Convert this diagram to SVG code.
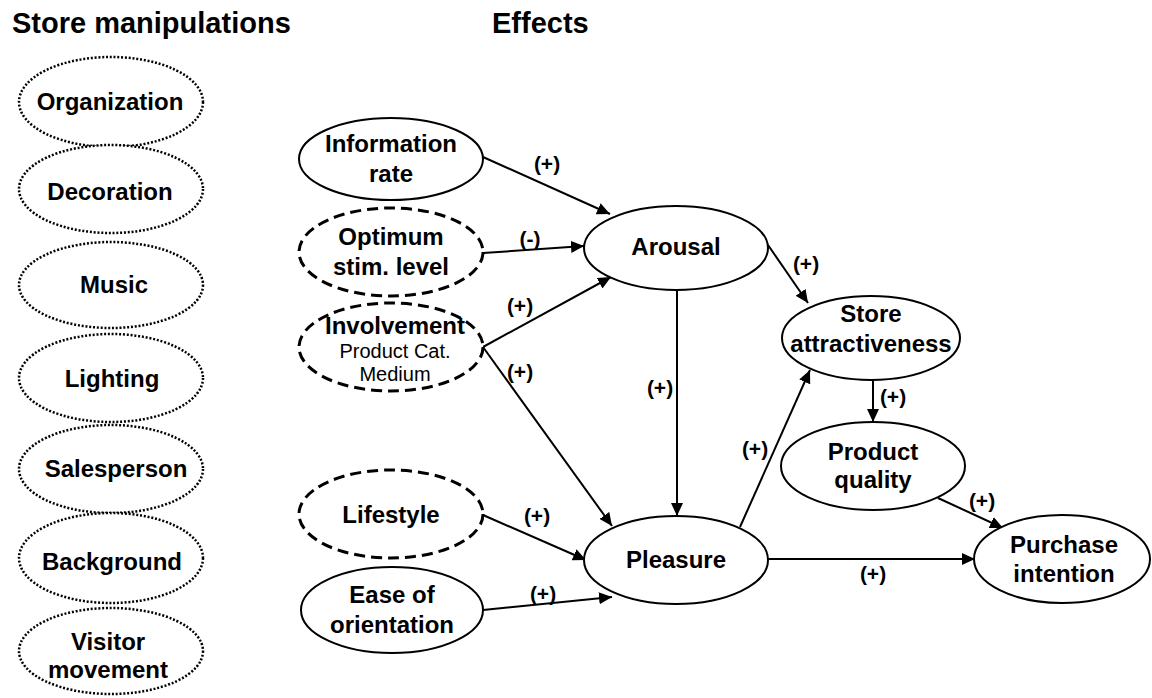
<svg xmlns="http://www.w3.org/2000/svg" width="1152" height="698" viewBox="0 0 1152 698">
<style>
text{font-family:"Liberation Sans",Arial,sans-serif;font-weight:bold;fill:#000;text-anchor:middle}
.title{font-size:29px;text-anchor:start}
.lbl{font-size:24px}
.sub{font-size:20px;font-weight:normal}
.sign{font-size:21px}
.dot{fill:#fff;stroke:#000;stroke-width:2.5;stroke-dasharray:2 1.8}
.dash{fill:#fff;stroke:#000;stroke-width:3;stroke-dasharray:11 6}
.solid{fill:#fff;stroke:#000;stroke-width:2}
.edge{stroke:#000;stroke-width:2;fill:none;marker-end:url(#arr)}
</style>
<defs>
<marker id="arr" markerUnits="userSpaceOnUse" markerWidth="14" markerHeight="12" refX="13" refY="6" orient="auto">
<path d="M0,0 L13,6 L0,12 z" fill="#000"/>
</marker>
</defs>
<g id="titles">
<text class="title" x="12" y="33">Store manipulations</text>
<text class="title" x="492" y="33">Effects</text>
</g>
<g id="manipulations">
<g id="organization"><ellipse class="dot" cx="111" cy="102" rx="92" ry="45"/><text class="lbl" x="110" y="110">Organization</text></g>
<g id="decoration"><ellipse class="dot" cx="111" cy="189" rx="92" ry="44"/><text class="lbl" x="110" y="200">Decoration</text></g>
<g id="music"><ellipse class="dot" cx="111" cy="285" rx="92" ry="43"/><text class="lbl" x="114" y="293">Music</text></g>
<g id="lighting"><ellipse class="dot" cx="111" cy="378" rx="92" ry="44"/><text class="lbl" x="112" y="387">Lighting</text></g>
<g id="salesperson"><ellipse class="dot" cx="111" cy="469" rx="92" ry="44"/><text class="lbl" x="116" y="477">Salesperson</text></g>
<g id="background"><ellipse class="dot" cx="111" cy="558" rx="92" ry="45"/><text class="lbl" x="112" y="570">Background</text></g>
<g id="visitor"><ellipse class="dot" cx="111" cy="651" rx="92" ry="43"/><text class="lbl" x="108" y="650">Visitor</text><text class="lbl" x="108" y="678">movement</text></g>
</g>
<g id="connectors">
<line class="edge" x1="483" y1="157" x2="610" y2="214"/>
<line class="edge" x1="483" y1="253" x2="584" y2="246"/>
<line class="edge" x1="483" y1="347" x2="611" y2="277"/>
<line class="edge" x1="483" y1="347" x2="612" y2="526"/>
<line class="edge" x1="483" y1="515" x2="586" y2="560"/>
<line class="edge" x1="483" y1="610" x2="612" y2="597"/>
<line class="edge" x1="677" y1="290" x2="677" y2="516"/>
<line class="edge" x1="768" y1="245" x2="808" y2="303"/>
<line class="edge" x1="740" y1="527" x2="810" y2="370"/>
<line class="edge" x1="873" y1="380" x2="873" y2="422"/>
<line class="edge" x1="938" y1="498" x2="1003" y2="528"/>
<line class="edge" x1="768" y1="559" x2="975" y2="559"/>
</g>
<g id="edge-labels">
<text class="sign" x="547" y="171">(+)</text>
<text class="sign" x="530" y="246">(-)</text>
<text class="sign" x="520" y="313">(+)</text>
<text class="sign" x="520" y="379">(+)</text>
<text class="sign" x="537" y="523">(+)</text>
<text class="sign" x="543" y="601">(+)</text>
<text class="sign" x="660" y="395">(+)</text>
<text class="sign" x="806" y="271">(+)</text>
<text class="sign" x="755" y="456">(+)</text>
<text class="sign" x="893" y="404">(+)</text>
<text class="sign" x="982" y="508">(+)</text>
<text class="sign" x="873" y="581">(+)</text>
</g>
<g id="info-rate"><ellipse class="solid" cx="391" cy="159" rx="92" ry="41"/><text class="lbl" x="391" y="152">Information</text><text class="lbl" x="391" y="182">rate</text></g>
<g id="optimum"><ellipse class="dash" cx="391" cy="252" rx="92" ry="44"/><text class="lbl" x="391" y="245">Optimum</text><text class="lbl" x="391" y="275">stim. level</text></g>
<g id="involvement"><ellipse class="dash" cx="391" cy="347" rx="92" ry="44"/><text class="lbl" x="395" y="334">Involvement</text><text class="sub" x="395" y="358">Product Cat.</text><text class="sub" x="395" y="381">Medium</text></g>
<g id="lifestyle"><ellipse class="dash" cx="391" cy="514" rx="92" ry="44"/><text class="lbl" x="391" y="523">Lifestyle</text></g>
<g id="ease"><ellipse class="solid" cx="392" cy="610" rx="91" ry="43"/><text class="lbl" x="392" y="603">Ease of</text><text class="lbl" x="392" y="633">orientation</text></g>
<g id="arousal"><ellipse class="solid" cx="676" cy="248" rx="92" ry="42"/><text class="lbl" x="676" y="255">Arousal</text></g>
<g id="pleasure"><ellipse class="solid" cx="676" cy="560" rx="92" ry="44"/><text class="lbl" x="676" y="568">Pleasure</text></g>
<g id="store-attr"><ellipse class="solid" cx="871" cy="338" rx="89" ry="42"/><text class="lbl" x="871" y="322">Store</text><text class="lbl" x="871" y="352">attractiveness</text></g>
<g id="product-quality"><ellipse class="solid" cx="873" cy="466" rx="92" ry="44"/><text class="lbl" x="873" y="460">Product</text><text class="lbl" x="873" y="488">quality</text></g>
<g id="purchase"><ellipse class="solid" cx="1062" cy="559" rx="88" ry="44"/><text class="lbl" x="1064" y="553">Purchase</text><text class="lbl" x="1064" y="582">intention</text></g>
</svg>
